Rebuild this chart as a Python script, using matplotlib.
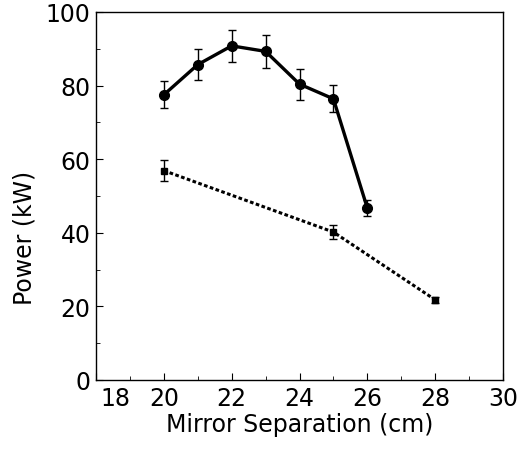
import matplotlib
matplotlib.use("Agg")
import matplotlib.pyplot as plt
from matplotlib.ticker import MultipleLocator, FixedFormatter

plt.rcParams['font.family'] = 'DejaVu Sans'
plt.rcParams['font.size'] = 17

# solid curve (circles)
sep_a = [20, 21, 22, 23, 24, 25, 26]
pow_a = [77.5, 85.7, 90.8, 89.3, 80.4, 76.4, 46.7]
err_a = [3.7, 4.3, 4.4, 4.5, 4.2, 3.7, 2.2]

# dotted curve (squares)
sep_b = [20, 25, 28]
pow_b = [56.9, 40.2, 21.8]
err_b = [2.9, 2.0, 0.8]

x_ticks = [18, 20, 22, 24, 26, 28, 30]
x_labels = ['', '20', '22', '24', '26', '28', '30']

fig = plt.figure(figsize=(5.17, 4.64), dpi=100)
ax = fig.add_axes([96/517, 1 - 381/464, (503 - 96)/517, (381 - 13)/464])

ax.errorbar(sep_a, pow_a, yerr=err_a, color='black', lw=2.4, marker='o', ms=7,
            elinewidth=1, capsize=3, capthick=1)
ax.errorbar(sep_b, pow_b, yerr=err_b, color='black', lw=2.2, ls=(0, (1.2, 0.8)),
            marker='s', ms=5, elinewidth=1, capsize=3, capthick=1)

ax.set_xlim(18, 30)
ax.set_ylim(0, 100)
ax.set_xticks(x_ticks)
ax.xaxis.set_major_formatter(FixedFormatter(x_labels))
ax.xaxis.set_minor_locator(MultipleLocator(1))
ax.yaxis.set_major_locator(MultipleLocator(20))
ax.yaxis.set_minor_locator(MultipleLocator(10))
ax.tick_params(which='both', direction='in', top=False, right=False)
ax.tick_params(which='major', length=5, pad=4)
ax.tick_params(which='minor', length=3)
for s in ax.spines.values():
    s.set_linewidth(1)

# "18" sits right of its tick so it clears the "0"
ax.annotate('18', xy=(18, 0), xycoords=('data', 'axes fraction'),
            xytext=(14, -4), textcoords='offset points', ha='center', va='top')

ax.set_xlabel('Mirror Separation (cm)', labelpad=2)
ax.set_ylabel('Power (kW)')
ax.yaxis.set_label_coords(-0.147, 0.39)

fig.savefig('out.png', dpi=100)
